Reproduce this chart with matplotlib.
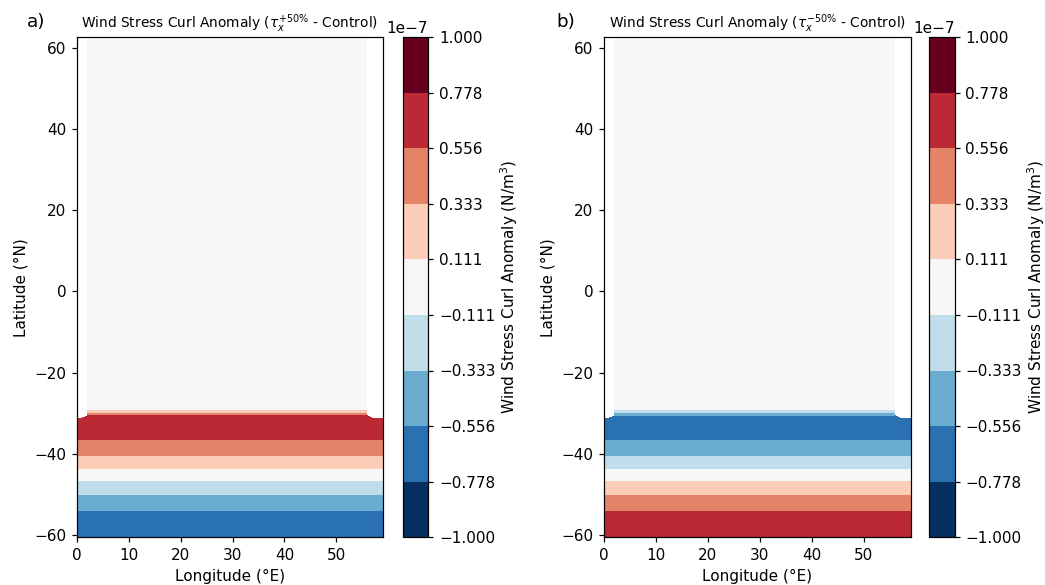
"""
Wind stress curl anomaly for the two zonal wind stress experiments (+50% / -50%) vs control.
"""
import numpy as np
import matplotlib
matplotlib.use('Agg')
import matplotlib.pyplot as plt

#################
# data (units 1e-7 N/m^3)
#################
lon = np.arange(0, 60)  # grid longitudes, deg E
lat_nodes = [-60.6, -57.5, -54.3, -50.1, -46.8, -43.8, -40.5, -36.6,
             -33.5, -31.3, -30.7, -30.1, -29.3, -28.5, 62.7]
curl_plus = [-0.70, -0.66, -0.556, -0.333, -0.111, 0.111, 0.333, 0.556,
             0.72, 0.70, 0.556, 0.333, 0.111, 0.0, 0.0]
curl_minus = [0.70, 0.66, 0.556, 0.333, 0.111, -0.111, -0.333, -0.556,
              -0.72, -0.70, -0.556, -0.333, -0.111, 0.0, 0.0]

# basin walls north of the channel (white = no data)
channel_north = -31.0
wall_west = 2
wall_east = 56

levels = np.linspace(-1, 1, 10) * 1e-7
titles = [r'Wind Stress Curl Anomaly ($\tau_x^{+50\%}$ - Control)',
          r'Wind Stress Curl Anomaly ($\tau_x^{-50\%}$ - Control)']
panel_labels = ['a)', 'b)']

#################
# plotting
#################
fig = plt.figure(figsize=(1045 / 110, 585 / 110), dpi=110)

ax_pos = [[0.0737, 0.082, 0.2928, 0.854], [0.578, 0.082, 0.2934, 0.854]]
cb_pos = [[0.3853, 0.082, 0.0245, 0.854], [0.889, 0.082, 0.0245, 0.854]]
label_x = [0.026, 0.532]

cmap = plt.get_cmap('RdBu_r', 9)  # 9 discrete colours, one per band

LON, LAT = np.meshgrid(lon, np.array(lat_nodes))
land = (LAT > channel_north) & ((LON < wall_west) | (LON > wall_east))

for i, prof in enumerate([curl_plus, curl_minus]):
    field = np.tile(np.array(prof)[:, None], (1, len(lon))) * 1e-7
    field = np.ma.masked_where(land, field)

    ax = fig.add_axes(ax_pos[i])
    cs = ax.contourf(lon, lat_nodes, field, levels=levels, cmap=cmap)
    ax.set_xlim(0, 59)
    ax.set_ylim(-60.6, 62.7)
    ax.set_xticks([0, 10, 20, 30, 40, 50])
    ax.set_yticks([-60, -40, -20, 0, 20, 40, 60])
    ax.set_xlabel('Longitude (°E)')
    ax.set_ylabel('Latitude (°N)')
    ax.set_title(titles[i], fontsize=9)

    cax = fig.add_axes(cb_pos[i])
    cbar = fig.colorbar(cs, cax=cax, ticks=levels)
    cbar.set_label('Wind Stress Curl Anomaly (N/m$^3$)', labelpad=2)

    fig.text(label_x[i], 0.962, panel_labels[i], fontsize=12, va='center')

plt.savefig('out.png', dpi=110)
